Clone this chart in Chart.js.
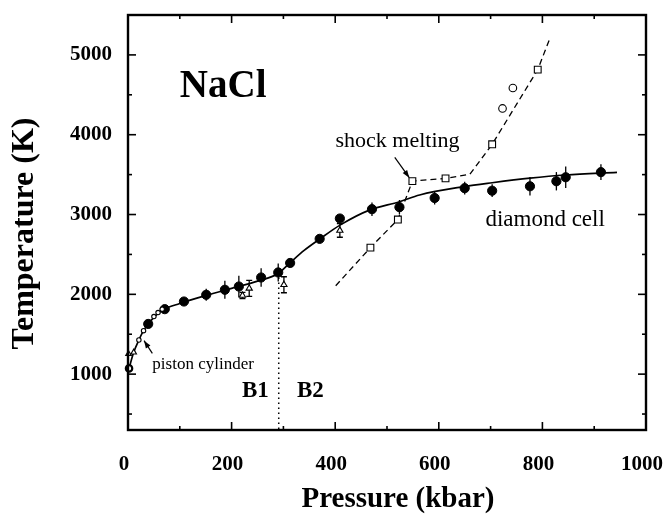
<!DOCTYPE html>
<html>
<head>
<meta charset="utf-8">
<script src="https://cdn.jsdelivr.net/npm/chart.js@4.4.1/dist/chart.umd.min.js"></script>
<style>
  html, body { margin: 0; padding: 0; background: #fff; }
  #wrap { width: 667px; height: 520px; }
</style>
</head>
<body>
<div id="wrap"><canvas id="nacl"></canvas></div>
<script>
/* ── Axis ticks ───────────────────────────────────────────────────── */
const xTicks = [0, 200, 400, 600, 800, 1000];
const xMinor = [100, 300, 500, 700, 900];
const yTicks = [1000, 2000, 3000, 4000, 5000];
const yMinor = [500, 1500, 2500, 3500, 4500];

/* ── Piston cylinder data ─────────────────────────────────────────── */
const pistonP    = [21, 30, 50, 58, 66];
const pistonT    = [1428, 1545, 1721, 1771, 1814];
const pistonLowP = [2];
const pistonLowT = [1072];
const pistonTriP = [1, 11];
const pistonTriT = [1255, 1273];

/* ── Diamond cell data (filled circles) ───────────────────────────── */
const dacP   = [39, 71, 108, 151, 187, 214, 257, 290, 313, 370, 409, 471, 524, 592, 650, 703, 776, 827, 845, 913];
const dacT   = [1629, 1814, 1910, 1994, 2057, 2098, 2211, 2274, 2393, 2695, 2950, 3067, 3092, 3207, 3330, 3298, 3354, 3417, 3467, 3531];
const dacErr = [0, 0, 0, 75, 113, 135, 117, 113, 0, 0, 0, 85, 90, 80, 80, 80, 115, 115, 135, 100];

/* ── Open triangles with error bars ───────────────────────────────── */
const triP   = [221, 234, 301, 409];
const triT   = [1985, 2075, 2120, 2800];
const triErr = [40, 100, 100, 85];

/* ── Shock melting ────────────────────────────────────────────────── */
const shockSqP   = [468, 521, 549, 613, 703, 791];
const shockSqT   = [2585, 2937, 3419, 3453, 3880, 4815];
const shockCircP = [723, 743];
const shockCircT = [4329, 4585];
const shockLineP = [401, 468, 521, 549, 613, 660, 703, 791, 814];
const shockLineT = [2108, 2585, 2937, 3419, 3453, 3504, 3880, 4815, 5200];

/* ── Melting curve fit and B1/B2 boundary ─────────────────────────── */
const fitP = [2, 11, 21, 30, 40, 50, 66, 100, 150, 200, 250, 290, 312, 340, 370, 410, 466, 524, 563, 649, 703, 776, 845, 944];
const fitT = [1072, 1273, 1428, 1545, 1635, 1712, 1800, 1885, 1985, 2075, 2165, 2262, 2390, 2550, 2692, 2870, 3055, 3160, 3245, 3350, 3398, 3455, 3495, 3528];
const boundP = [291, 291];
const boundT = [2274, 300];

const SERIF = "'Liberation Serif', 'Times New Roman', serif";
const pts = (xs, ys) => xs.map((v, i) => ({ x: v, y: ys[i] }));

/* ── Error bars (drawn under the markers) ─────────────────────────── */
const errBars = {
    id: 'errBars',
    beforeDatasetsDraw(chart) {
        const { ctx, scales: { x, y } } = chart;
        ctx.save();
        ctx.strokeStyle = '#000';
        ctx.lineWidth = 1.3;
        const bar = (P, T, E, cap) => P.forEach((p, i) => {
            if (!E[i]) return;
            const px = x.getPixelForValue(p);
            const y0 = y.getPixelForValue(T[i] - E[i]);
            const y1 = y.getPixelForValue(T[i] + E[i]);
            ctx.beginPath();
            ctx.moveTo(px, y0); ctx.lineTo(px, y1);
            if (cap) {
                ctx.moveTo(px - cap, y0); ctx.lineTo(px + cap, y0);
                ctx.moveTo(px - cap, y1); ctx.lineTo(px + cap, y1);
            }
            ctx.stroke();
        });
        bar(dacP, dacT, dacErr, 0);
        bar(triP, triT, triErr, 3);
        ctx.restore();
    },
};

/* ── Labels and arrows ────────────────────────────────────────────── */
function arrow(ctx, x0, y0, x1, y1) {
    const a = Math.atan2(y1 - y0, x1 - x0);
    ctx.beginPath();
    ctx.moveTo(x0, y0); ctx.lineTo(x1, y1);
    ctx.stroke();
    ctx.beginPath();
    ctx.moveTo(x1, y1);
    ctx.lineTo(x1 - 8 * Math.cos(a - 0.35), y1 - 8 * Math.sin(a - 0.35));
    ctx.lineTo(x1 - 8 * Math.cos(a + 0.35), y1 - 8 * Math.sin(a + 0.35));
    ctx.closePath();
    ctx.fill();
}

const notes = {
    id: 'notes',
    afterDatasetsDraw(chart) {
        const { ctx, scales: { x, y } } = chart;
        ctx.save();
        ctx.fillStyle = '#000';
        ctx.strokeStyle = '#000';
        ctx.textBaseline = 'alphabetic';
        const txt = (s, p, t, font, align) => {
            ctx.font = font;
            ctx.textAlign = align;
            ctx.fillText(s, x.getPixelForValue(p), y.getPixelForValue(t));
        };
        txt('NaCl', 100, 4472, `bold 39px ${SERIF}`, 'left');
        txt('shock melting', 640, 3843, `22px ${SERIF}`, 'right');
        txt('diamond cell', 690, 2856, `23px ${SERIF}`, 'left');
        txt('piston cylinder', 47, 1059, `17px ${SERIF}`, 'left');
        txt('B1', 246, 715, `bold 23px ${SERIF}`, 'center');
        txt('B2', 352, 715, `bold 23px ${SERIF}`, 'center');

        ctx.lineWidth = 1.2;
        arrow(ctx, x.getPixelForValue(515), y.getPixelForValue(3717),
                   x.getPixelForValue(543), y.getPixelForValue(3462));
        arrow(ctx, x.getPixelForValue(47), y.getPixelForValue(1260),
                   x.getPixelForValue(31), y.getPixelForValue(1419));
        ctx.restore();
    },
};

/* ── Frame with inward ticks on all four sides, axis titles ───────── */
const frame = {
    id: 'frame',
    afterDraw(chart) {
        const { ctx, chartArea: a, scales: { x, y } } = chart;
        ctx.save();
        ctx.strokeStyle = '#000';
        ctx.lineWidth = 1.6;
        const seg = (x0, y0, x1, y1) => {
            ctx.beginPath(); ctx.moveTo(x0, y0); ctx.lineTo(x1, y1); ctx.stroke();
        };
        xTicks.concat(xMinor).forEach(v => {
            const px = x.getPixelForValue(v);
            const len = xTicks.includes(v) ? 8 : 4;
            seg(px, a.bottom, px, a.bottom - len);
            seg(px, a.top, px, a.top + len);
        });
        yTicks.concat(yMinor).forEach(v => {
            const py = y.getPixelForValue(v);
            const len = yTicks.includes(v) ? 8 : 4;
            seg(a.left, py, a.left + len, py);
            seg(a.right, py, a.right - len, py);
        });
        ctx.lineWidth = 2.4;
        ctx.strokeRect(a.left, a.top, a.right - a.left, a.bottom - a.top);

        // axis titles sit a little off-centre in the original
        ctx.fillStyle = '#000';
        ctx.textAlign = 'center';
        ctx.textBaseline = 'middle';
        ctx.font = `bold 29px ${SERIF}`;
        ctx.fillText('Pressure (kbar)', a.left + (a.right - a.left) / 2 + 11, 500);
        ctx.translate(25, a.top + (a.bottom - a.top) / 2 + 11);
        ctx.rotate(-Math.PI / 2);
        ctx.font = `bold 32px ${SERIF}`;
        ctx.fillText('Temperature (K)', 0, 0);
        ctx.restore();
    },
};

const hollow = { backgroundColor: '#fff', borderColor: '#000', borderWidth: 1.1, clip: false };

new Chart(document.getElementById('nacl'), {
    type: 'scatter',
    data: {
        datasets: [
            { ...hollow, data: pts(pistonP, pistonT), pointRadius: 2.2 },
            { ...hollow, data: pts(pistonLowP, pistonLowT), pointRadius: 3.2, borderWidth: 2.2 },
            { ...hollow, data: pts(pistonTriP, pistonTriT), pointStyle: 'triangle', pointRadius: 3.2 },
            { data: pts(dacP, dacT), pointRadius: 4.6, backgroundColor: '#000', borderColor: '#000', clip: false },
            { ...hollow, data: pts(triP, triT), pointStyle: 'triangle', pointRadius: 3.6 },
            { ...hollow, data: pts(shockSqP, shockSqT), pointStyle: 'rect', pointRadius: 4.8 },
            { ...hollow, data: pts(shockCircP, shockCircT), pointRadius: 3.8 },
            { data: pts(fitP, fitT), showLine: true, pointRadius: 0, borderColor: '#000',
              borderWidth: 1.7, cubicInterpolationMode: 'monotone' },
            { data: pts(shockLineP, shockLineT), showLine: true, pointRadius: 0, borderColor: '#000',
              borderWidth: 1.3, borderDash: [6, 4] },
            { data: pts(boundP, boundT), showLine: true, pointRadius: 0, borderColor: '#000',
              borderWidth: 1.5, borderDash: [1.5, 3.5] },
        ],
    },
    options: {
        responsive: true,
        maintainAspectRatio: false,
        animation: false,
        events: [],
        layout: { padding: { top: 15, right: 21, left: 0, bottom: 0 } },
        plugins: { legend: { display: false }, tooltip: { enabled: false } },
        scales: {
            x: {
                type: 'linear',
                min: 0, max: 1000,
                afterBuildTicks: s => { s.ticks = xTicks.map(v => ({ value: v })); },
                afterFit: s => { s.height = 90; s.paddingLeft = 0; s.paddingRight = 0; },
                grid: { display: false, drawTicks: false },
                border: { display: false },
                ticks: { padding: 22, labelOffset: -4, color: '#000', callback: v => String(v),
                         font: { family: SERIF, size: 21, weight: 'bold' } },
            },
            y: {
                type: 'linear',
                min: 300, max: 5500,
                afterBuildTicks: s => { s.ticks = yTicks.map(v => ({ value: v })); },
                afterFit: s => { s.width = 128; s.paddingTop = 0; s.paddingBottom = 0; },
                grid: { display: false, drawTicks: false },
                border: { display: false },
                ticks: { padding: 16, color: '#000', callback: v => String(v),
                         font: { family: SERIF, size: 21, weight: 'bold' } },
            },
        },
    },
    plugins: [errBars, notes, frame],
});
</script>
</body>
</html>
